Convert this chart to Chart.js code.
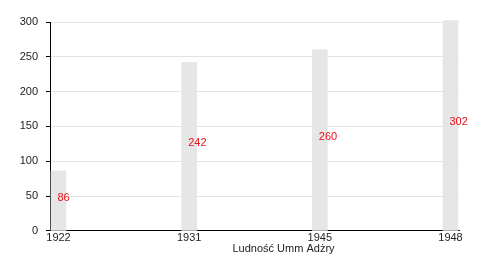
<!DOCTYPE html>
<html>
<head>
<meta charset="utf-8">
<script src="https://cdn.jsdelivr.net/npm/chart.js@4/dist/chart.umd.min.js"></script>
<style>
  body { margin: 0; background: #fff; }
</style>
</head>
<body>
<canvas id="chart" width="500" height="270"></canvas>
<script>
var years = ['1922', '1931', '1945', '1948'];
var population = [86, 242, 260, 302];
var yTicks = [0, 50, 100, 150, 200, 250, 300];
var axisTitle = 'Ludność Umm Adżry';

Chart.defaults.font.family = '"Liberation Sans", Arial, sans-serif';
Chart.defaults.font.size = 11;
Chart.defaults.color = '#222';

// red value labels, placed in the middle of each bar
var valueLabels = {
    id: 'valueLabels',
    afterDatasetsDraw: function(chart) {
        var ctx = chart.ctx;
        var meta = chart.getDatasetMeta(0);
        ctx.save();
        ctx.font = '11px "Liberation Sans", Arial, sans-serif';
        ctx.fillStyle = '#e8121b';
        ctx.textAlign = 'left';
        ctx.textBaseline = 'middle';
        meta.data.forEach(function(bar, i) {
            ctx.fillText(population[i], bar.x - 1, (bar.y + bar.base) / 2 - 3);
        });
        ctx.restore();
    }
};

// axis title sits a bit right of the plot centre
var bottomTitle = {
    id: 'bottomTitle',
    afterDraw: function(chart) {
        var ctx = chart.ctx;
        var area = chart.chartArea;
        ctx.save();
        ctx.font = '11px "Liberation Sans", Arial, sans-serif';
        ctx.fillStyle = '#222';
        ctx.textAlign = 'center';
        ctx.textBaseline = 'middle';
        ctx.fillText(axisTitle, (area.left + area.right) / 2 + 29, area.bottom + 18);
        ctx.restore();
    }
};

var ctx = document.getElementById('chart');

var myChart = new Chart(ctx, {
    type: 'bar',
    data: {
        datasets: [
            {
                data: population.map(function(v, i) { return { x: i, y: v }; }),
                backgroundColor: '#e6e6e6',
                barThickness: 15,
                clip: false
            }
        ]
    },
    options: {
        responsive: false,
        animation: false,
        layout: {
            padding: { top: 22, right: 41, bottom: 24, left: 0 }
        },
        plugins: {
            legend: { display: false },
            tooltip: { enabled: false }
        },
        scales: {
            x: {
                type: 'linear',
                offset: false,
                min: -0.065,
                max: 3.065,
                grid: { display: false, drawTicks: false },
                border: { display: true, color: '#000', width: 1 },
                afterBuildTicks: function(scale) {
                    scale.ticks = years.map(function(y, i) { return { value: i }; });
                },
                ticks: {
                    padding: 1,
                    maxRotation: 0,
                    callback: function(v) { return years[v]; }
                }
            },
            y: {
                min: 0,
                max: 300,
                afterFit: function(scale) { scale.width = 50; },
                afterBuildTicks: function(scale) {
                    scale.ticks = yTicks.map(function(v) { return { value: v }; });
                },
                grid: {
                    color: '#e3e3e3',
                    tickColor: '#000',
                    tickLength: 4,
                    drawTicks: true
                },
                border: { display: true, color: '#000', width: 1 },
                ticks: { padding: 8 }
            }
        }
    },
    plugins: [valueLabels, bottomTitle]
});
</script>
</body>
</html>
